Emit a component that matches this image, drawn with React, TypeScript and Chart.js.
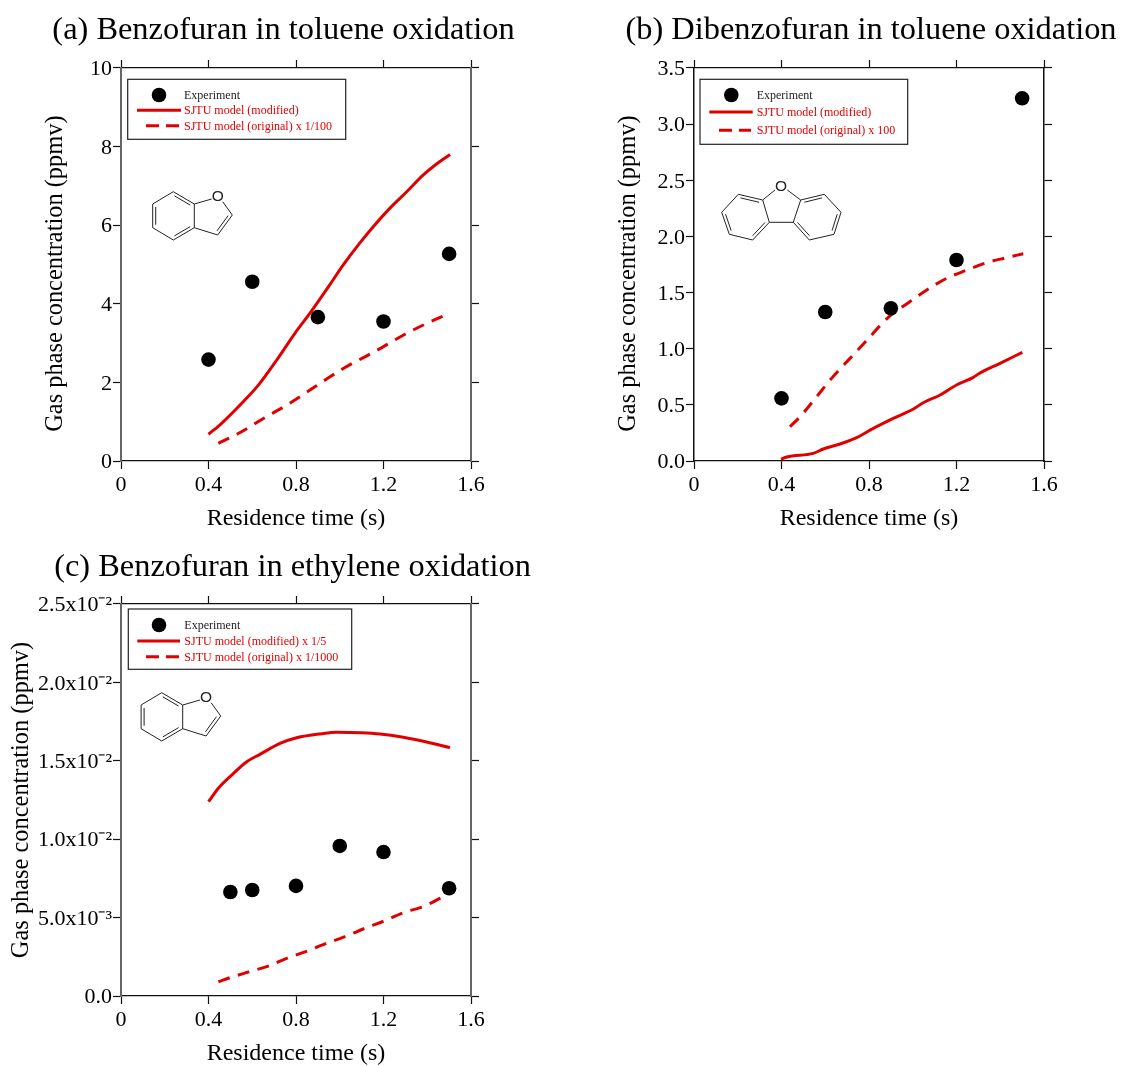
import React, { useEffect, useRef } from "react";
import { Chart, registerables } from "chart.js";

Chart.register(...registerables);

const SERIF = "'Liberation Serif'";
const RED = "#e00000";

// ---------- data ----------
const xTickLabels = ["0", "0.4", "0.8", "1.2", "1.6"];
const axisXLabel = "Residence time (s)";
const axisYLabel = "Gas phase concentration (ppmv)";

const titleA = "(a) Benzofuran in toluene oxidation";
const yTicksA = ["0", "2", "4", "6", "8", "10"];
const expXA = [0.4, 0.6, 0.9, 1.2, 1.5];
const expYA = [2.58, 4.56, 3.66, 3.55, 5.27];
const modXA = [0.4, 0.46, 0.552, 0.628, 0.712, 0.795, 0.864, 0.948, 1.016, 1.085, 1.153, 1.222, 1.306, 1.382, 1.45, 1.504];
const modYA = [0.68, 0.96, 1.47, 1.93, 2.57, 3.25, 3.76, 4.43, 4.99, 5.5, 5.96, 6.39, 6.85, 7.28, 7.59, 7.8];
const oriXA = [0.445, 0.536, 0.666, 0.757, 0.841, 0.933, 1.024, 1.115, 1.2, 1.29, 1.382, 1.473];
const oriYA = [0.45, 0.7, 1.13, 1.42, 1.72, 2.06, 2.38, 2.65, 2.91, 3.2, 3.46, 3.69];

const titleB = "(b) Dibenzofuran in toluene oxidation";
const yTicksB = ["0.0", "0.5", "1.0", "1.5", "2.0", "2.5", "3.0", "3.5"];
const expXB = [0.4, 0.6, 0.9, 1.2, 1.5];
const expYB = [0.558, 1.327, 1.36, 1.79, 3.23];
const modXB = [0.398, 0.424, 0.545, 0.591, 0.667, 0.744, 0.82, 0.911, 1.003, 1.048, 1.125, 1.2, 1.277, 1.3, 1.399, 1.501];
const modYB = [0.015, 0.036, 0.068, 0.107, 0.151, 0.208, 0.291, 0.38, 0.463, 0.519, 0.588, 0.677, 0.745, 0.775, 0.87, 0.968];
const oriXB = [0.439, 0.492, 0.561, 0.629, 0.713, 0.797, 0.888, 0.98, 1.064, 1.155, 1.247, 1.338, 1.422, 1.505];
const oriYB = [0.305, 0.41, 0.573, 0.736, 0.914, 1.09, 1.28, 1.41, 1.523, 1.627, 1.7, 1.766, 1.808, 1.846];

const titleC = "(c) Benzofuran in ethylene oxidation";
const yTicksC = ["0.0", "5.0x10⁻³", "1.0x10⁻²", "1.5x10⁻²", "2.0x10⁻²", "2.5x10⁻²"];
const expXC = [0.5, 0.6, 0.8, 1.0, 1.2, 1.5];
const expYC = [0.00663, 0.00676, 0.00702, 0.00957, 0.00918, 0.00687];
const modXC = [0.4, 0.445, 0.506, 0.575, 0.635, 0.727, 0.803, 0.917, 0.986, 1.1, 1.184, 1.29, 1.397, 1.504];
const modYC = [0.01239, 0.01325, 0.01409, 0.01494, 0.01541, 0.01611, 0.01647, 0.01673, 0.01682, 0.01679, 0.01671, 0.0165, 0.0162, 0.01584];
const oriXC = [0.445, 0.49, 0.582, 0.673, 0.757, 0.841, 0.933, 1.024, 1.115, 1.206, 1.29, 1.382, 1.473];
const oriYC = [0.00091, 0.00113, 0.00153, 0.00191, 0.0024, 0.00281, 0.00332, 0.00378, 0.00432, 0.0048, 0.00531, 0.0057, 0.00633];

// ---------- structure diagrams (page pixels) ----------
type Bond = [number, number, number, number, number?]; // last: inner-line side (+1 / -1) for double bonds
const benzofuranBonds: Bond[] = [
  [173.3, 191.7, 194.3, 204, 1],
  [194.3, 204, 194.3, 227.7],
  [194.3, 227.7, 173.3, 240, 1],
  [173.3, 240, 152.7, 227.7],
  [152.7, 227.7, 152.7, 204, 1],
  [152.7, 204, 173.3, 191.7],
  [194.3, 204, 211.6, 199],
  [222.7, 201.7, 232.3, 215],
  [232.3, 215, 217.7, 235, 1],
  [217.7, 235, 194.3, 227.7],
];
const dibenzofuranBonds: Bond[] = [
  [738.3, 194.3, 762.7, 200, 1],
  [762.7, 200, 769.3, 222.3],
  [769.3, 222.3, 752.7, 240, 1],
  [752.7, 240, 729.3, 234.3],
  [729.3, 234.3, 721.7, 212.3, 1],
  [721.7, 212.3, 738.3, 194.3],
  [824.3, 194.3, 800.7, 200, -1],
  [800.7, 200, 793.3, 222.3],
  [793.3, 222.3, 809.3, 240, -1],
  [809.3, 240, 834, 234.3],
  [834, 234.3, 841, 212.3, -1],
  [841, 212.3, 824.3, 194.3],
  [769.3, 222.3, 793.3, 222.3],
  [762.7, 200, 775, 190],
  [800.7, 200, 787.3, 190],
];

type PanelCfg = {
  left: number; top: number; w: number; h: number;
  plotLeft: number; plotRight: number; plotTop: number; plotBottom: number;
  title: string; titlePad: { top: number; bottom: number };
  yMax: number; yStep: number; yTicks: string[]; yTitle: string; yTitlePad: number;
  frame: string; frameW: number;
  exp: [number[], number[]]; mod: [number[], number[]]; ori: [number[], number[]];
  modLabel: string; oriLabel: string;
  box: number[]; rows: number[]; textX: number; solid: number[]; dash: number[]; markerX: number;
  bonds: Bond[]; dx: number; dy: number; oxygen: number[];
};

const shifted = axisYLabel + "\u00A0\u00A0\u00A0";

const panels: PanelCfg[] = [
  {
    left: 0, top: 0, w: 567, h: 545, plotLeft: 121, plotRight: 471, plotTop: 68, plotBottom: 461,
    title: titleA, titlePad: { top: 10.6, bottom: 10.5 },
    yMax: 10, yStep: 2, yTicks: yTicksA, yTitle: shifted, yTitlePad: 41, frame: "#666666", frameW: 2,
    exp: [expXA, expYA], mod: [modXA, modYA], ori: [oriXA, oriYA],
    modLabel: "SJTU model (modified)", oriLabel: "SJTU model (original) x 1/100",
    box: [127.7, 79.3, 345.7, 139.3], rows: [95, 110.3, 125.7], textX: 184, solid: [137, 181], dash: [146, 179], markerX: 159,
    bonds: benzofuranBonds, dx: 0, dy: 0, oxygen: [217.7, 196.7],
  },
  {
    left: 612, top: 0, w: 518, h: 545, plotLeft: 694, plotRight: 1044, plotTop: 68, plotBottom: 461,
    title: titleB, titlePad: { top: 10.6, bottom: 10.5 },
    yMax: 3.5, yStep: 0.5, yTicks: yTicksB, yTitle: shifted, yTitlePad: 2, frame: "#111111", frameW: 1.5,
    exp: [expXB, expYB], mod: [modXB, modYB], ori: [oriXB, oriYB],
    modLabel: "SJTU model (modified)", oriLabel: "SJTU model (original) x 100",
    box: [700, 79.3, 907.7, 144.3], rows: [95, 112, 130.3], textX: 756.7, solid: [709.3, 752.7], dash: [719, 751], markerX: 731.3,
    bonds: dibenzofuranBonds, dx: 0, dy: 0, oxygen: [781, 186],
  },
  {
    left: 0, top: 536, w: 585, h: 544, plotLeft: 121, plotRight: 471, plotTop: 604, plotBottom: 996,
    title: titleC, titlePad: { top: 11.6, bottom: 9.5 },
    yMax: 0.025, yStep: 0.005, yTicks: yTicksC, yTitle: axisYLabel, yTitlePad: 7, frame: "#666666", frameW: 2,
    exp: [expXC, expYC], mod: [modXC, modYC], ori: [oriXC, oriYC],
    modLabel: "SJTU model (modified) x 1/5", oriLabel: "SJTU model (original) x 1/1000",
    box: [128.3, 609, 351.7, 669.3], rows: [625, 641, 656.7], textX: 184.3, solid: [137.3, 180], dash: [146, 179], markerX: 159,
    bonds: benzofuranBonds, dx: -11.6, dy: 501, oxygen: [217.7, 196.7],
  },
];

const zip = (xs: number[], ys: number[]) => xs.map((x, i) => ({ x, y: ys[i] }));

function panelPlugin(p: PanelCfg) {
  return {
    id: "panelDecor",
    beforeDraw(chart: any) {
      // the reference's value labels sit slightly below their ticks
      chart.scales.y.getLabelItems().forEach((item: any) => {
        if (!item.shifted) {
          item.options.translation[1] += 1.5;
          item.shifted = true;
        }
      });
    },
    afterDatasetsDraw(chart: any) {
      const ctx = chart.ctx;
      const X = (v: number) => v - p.left;
      const Y = (v: number) => v - p.top;
      ctx.save();
      // structure
      ctx.strokeStyle = "#222";
      ctx.lineWidth = 1;
      const line = (a: number, b: number, c: number, d: number) => {
        ctx.beginPath();
        ctx.moveTo(X(a + p.dx), Y(b + p.dy));
        ctx.lineTo(X(c + p.dx), Y(d + p.dy));
        ctx.stroke();
      };
      p.bonds.forEach(([a, b, c, d, side]) => {
        line(a, b, c, d);
        if (side) {
          const len = Math.hypot(c - a, d - b);
          const ux = (c - a) / len, uy = (d - b) / len;
          const nx = -uy * side * 3, ny = ux * side * 3;
          line(a + nx + ux * 3, b + ny + uy * 3, c + nx - ux * 3, d + ny - uy * 3);
        }
      });
      ctx.fillStyle = "#222";
      ctx.font = "15.5px 'Liberation Sans'";
      ctx.textAlign = "center";
      ctx.textBaseline = "middle";
      ctx.fillText("O", X(p.oxygen[0] + p.dx), Y(p.oxygen[1] + p.dy) + 0.5);

      // legend, built from the datasets
      const [x0, y0, x1, y1] = p.box;
      ctx.fillStyle = "#fff";
      ctx.fillRect(X(x0), Y(y0), x1 - x0, y1 - y0);
      ctx.strokeStyle = "#222";
      ctx.lineWidth = 1.2;
      ctx.strokeRect(X(x0), Y(y0), x1 - x0, y1 - y0);
      ctx.font = `12px ${SERIF}`;
      ctx.textAlign = "left";
      chart.data.datasets.forEach((ds: any, i: number) => {
        const y = Y(p.rows[i]);
        ctx.fillStyle = i === 0 ? "#222" : RED;
        ctx.fillText(ds.label, X(p.textX), y + 1);
        if (i === 0) {
          ctx.fillStyle = "#000";
          ctx.beginPath();
          ctx.arc(X(p.markerX), y, 7.3, 0, Math.PI * 2);
          ctx.fill();
        } else {
          const seg = i === 1 ? p.solid : p.dash;
          ctx.strokeStyle = ds.borderColor;
          ctx.lineWidth = 3;
          ctx.setLineDash(i === 1 ? [] : [13, 7]);
          ctx.beginPath();
          ctx.moveTo(X(seg[0]), y);
          ctx.lineTo(X(seg[1]), y);
          ctx.stroke();
          ctx.setLineDash([]);
        }
      });
      ctx.restore();
    },
  };
}

function Panel({ p }: { p: PanelCfg }) {
  const ref = useRef<HTMLCanvasElement>(null);
  useEffect(() => {
    const tickFont = { family: SERIF, size: 22 };
    const xTitleFont = { family: SERIF, size: 24, lineHeight: 1.2 };
    const yTitleFont = { family: SERIF, size: 24.4, lineHeight: 1.2 };
    const curve = { showLine: true, pointRadius: 0, borderColor: RED, backgroundColor: RED, borderWidth: 3, cubicInterpolationMode: "monotone" };
    const chart = new Chart(ref.current as HTMLCanvasElement, {
      type: "scatter",
      data: {
        datasets: [
          { label: "Experiment", data: zip(p.exp[0], p.exp[1]), showLine: false, pointRadius: 7.3, pointHoverRadius: 7.3, backgroundColor: "#000", borderColor: "#000", borderWidth: 0 },
          { label: p.modLabel, data: zip(p.mod[0], p.mod[1]), ...curve },
          { label: p.oriLabel, data: zip(p.ori[0], p.ori[1]), ...curve, borderDash: [12, 8.5] },
        ],
      },
      options: {
        responsive: false,
        animation: false,
        layout: { autoPadding: false, padding: 0 },
        plugins: {
          legend: { display: false },
          tooltip: { enabled: false },
          title: { display: true, text: p.title, color: "#000", align: "center", font: { family: SERIF, size: 32.4, weight: "normal", lineHeight: 1.2 }, padding: p.titlePad },
        },
        scales: {
          x: {
            type: "linear", position: "bottom", min: 0, max: 1.6,
            border: { color: "#111", width: 1.2 },
            grid: { drawOnChartArea: false, tickLength: 8, tickColor: "#111", tickWidth: 1.2 },
            ticks: { stepSize: 0.4, autoSkip: false, maxRotation: 0, color: "#000", padding: 3, font: tickFont, callback: (_v: any, i: number) => xTickLabels[i] },
            title: { display: true, text: axisXLabel, color: "#000", font: xTitleFont, padding: { top: 0, bottom: 12 } },
            afterFit: (s: any) => { s.height = p.h - (p.plotBottom - p.top); },
          },
          x2: {
            type: "linear", position: "top", min: 0, max: 1.6,
            border: { color: "#111", width: 1.2 },
            grid: { drawOnChartArea: false, tickLength: 8, tickColor: "#111", tickWidth: 1.2 },
            ticks: { stepSize: 0.4, display: false },
            afterFit: (s: any) => { s.height = 8; },
          },
          y: {
            type: "linear", position: "left", min: 0, max: p.yMax,
            border: { color: p.frame, width: p.frameW },
            grid: { drawOnChartArea: false, tickLength: 8, tickColor: "#111", tickWidth: 1.2 },
            ticks: { stepSize: p.yStep, autoSkip: false, color: "#000", padding: 1, font: tickFont, callback: (_v: any, i: number) => p.yTicks[i] },
            title: { display: true, text: p.yTitle, color: "#000", font: yTitleFont, padding: { top: p.yTitlePad, bottom: 0 } },
            afterFit: (s: any) => { s.width = p.plotLeft - p.left; },
          },
          y2: {
            type: "linear", position: "right", min: 0, max: p.yMax,
            border: { color: p.frame, width: p.frameW },
            grid: { drawOnChartArea: false, tickLength: 8, tickColor: "#111", tickWidth: 1.2 },
            ticks: { stepSize: p.yStep, display: false },
            afterFit: (s: any) => { s.width = p.w - (p.plotRight - p.left); },
          },
        },
      } as any,
      plugins: [panelPlugin(p)],
    });
    return () => chart.destroy();
  }, [p]);
  return (
    <canvas
      ref={ref}
      width={p.w}
      height={p.h}
      style={{ position: "absolute", left: p.left, top: p.top, width: p.w, height: p.h, display: "block" }}
    />
  );
}

export default function App() {
  return (
    <div style={{ position: "absolute", left: 0, top: 0, width: 1121, height: 1066, overflow: "hidden", background: "#fff" }}>
      {panels.map((p) => (
        <Panel key={p.title} p={p} />
      ))}
    </div>
  );
}
